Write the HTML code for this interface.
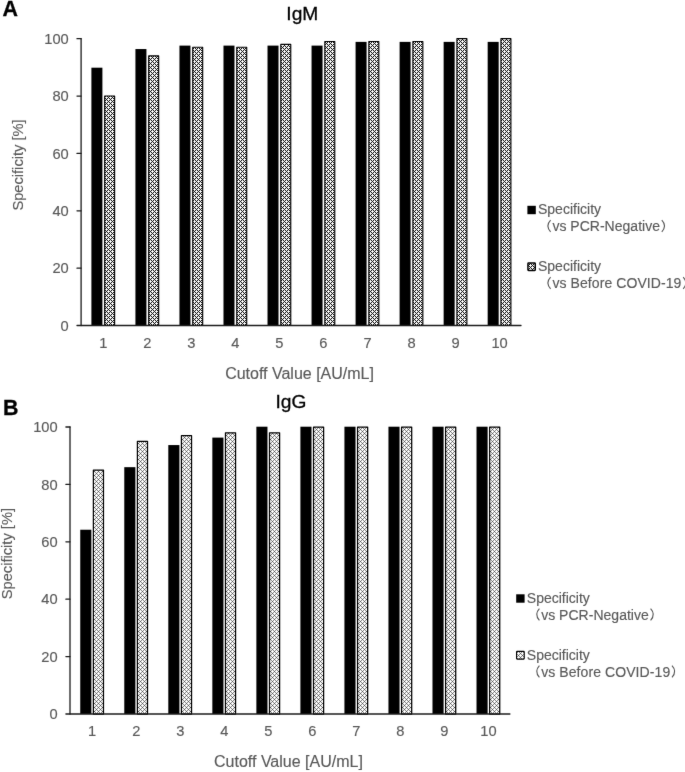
<!DOCTYPE html>
<html><head><meta charset="utf-8"><title>Specificity</title>
<style>
html,body{margin:0;padding:0;background:#fff;}
body{width:685px;height:772px;overflow:hidden;font-family:"Liberation Sans",sans-serif;}
svg{display:block;}
svg text{font-family:"Liberation Sans",sans-serif;}
svg{will-change:transform;}
svg text{stroke-width:0.15px;paint-order:stroke fill;}
.g text{stroke:#595959;}
</style></head>
<body>
<svg width="685" height="772" viewBox="0 0 685 772">
<defs>
<filter id="bl" x="0" y="0" width="685" height="772" filterUnits="userSpaceOnUse" color-interpolation-filters="sRGB"><feConvolveMatrix order="3" kernelMatrix="0.0049 0.0602 0.0049 0.0602 0.7396 0.0602 0.0049 0.0602 0.0049" divisor="1" edgeMode="duplicate" preserveAlpha="false"/></filter>
<pattern id="pa" width="4" height="4" patternUnits="userSpaceOnUse" patternTransform="translate(0 1)">
<rect width="4" height="4" fill="#fff"/>
<path d="M-1 -1 L5 5 M3 -1 L5 1 M-1 3 L1 5 M-1 2 L2 -1 M-1 6 L6 -1" stroke="#000" stroke-width="1.0" fill="none"/>
</pattern>
<pattern id="pb" width="4" height="4" patternUnits="userSpaceOnUse" patternTransform="translate(0 1)">
<rect width="4" height="4" fill="#fff"/>
<path d="M-1 -1 L5 5 M3 -1 L5 1 M-1 3 L1 5 M-1 2 L2 -1 M-1 6 L6 -1" stroke="#222" stroke-width="0.58" fill="none"/>
</pattern>
</defs>
<rect width="685" height="772" fill="#fff"/>
<g filter="url(#bl)">
<rect x="91.40" y="67.69" width="11.0" height="257.81" fill="#000"/>
<rect x="104.67" y="96.03" width="9.95" height="229.47" fill="url(#pa)" stroke="#000" stroke-width="1.15" stroke-linejoin="round"/>
<rect x="135.43" y="49.05" width="11.0" height="276.45" fill="#000"/>
<rect x="148.70" y="55.88" width="9.95" height="269.62" fill="url(#pa)" stroke="#000" stroke-width="1.15" stroke-linejoin="round"/>
<rect x="179.46" y="45.61" width="11.0" height="279.89" fill="#000"/>
<rect x="192.73" y="47.28" width="9.95" height="278.22" fill="url(#pa)" stroke="#000" stroke-width="1.15" stroke-linejoin="round"/>
<rect x="223.49" y="45.61" width="11.0" height="279.89" fill="#000"/>
<rect x="236.76" y="47.28" width="9.95" height="278.22" fill="url(#pa)" stroke="#000" stroke-width="1.15" stroke-linejoin="round"/>
<rect x="267.52" y="45.61" width="11.0" height="279.89" fill="#000"/>
<rect x="280.80" y="44.41" width="9.95" height="281.09" fill="url(#pa)" stroke="#000" stroke-width="1.15" stroke-linejoin="round"/>
<rect x="311.55" y="45.61" width="11.0" height="279.89" fill="#000"/>
<rect x="324.82" y="41.54" width="9.95" height="283.96" fill="url(#pa)" stroke="#000" stroke-width="1.15" stroke-linejoin="round"/>
<rect x="355.58" y="41.88" width="11.0" height="283.62" fill="#000"/>
<rect x="368.85" y="41.54" width="9.95" height="283.96" fill="url(#pa)" stroke="#000" stroke-width="1.15" stroke-linejoin="round"/>
<rect x="399.61" y="41.88" width="11.0" height="283.62" fill="#000"/>
<rect x="412.89" y="41.54" width="9.95" height="283.96" fill="url(#pa)" stroke="#000" stroke-width="1.15" stroke-linejoin="round"/>
<rect x="443.64" y="41.88" width="11.0" height="283.62" fill="#000"/>
<rect x="456.92" y="38.67" width="9.95" height="286.83" fill="url(#pa)" stroke="#000" stroke-width="1.15" stroke-linejoin="round"/>
<rect x="487.67" y="41.88" width="11.0" height="283.62" fill="#000"/>
<rect x="500.94" y="38.67" width="9.95" height="286.83" fill="url(#pa)" stroke="#000" stroke-width="1.15" stroke-linejoin="round"/>
<path d="M81.1 38.7 V325.5" stroke="#1c1c1c" stroke-width="1.3" fill="none" stroke-linecap="round"/>
<path d="M77.0 325.5 H521.0" stroke="#1c1c1c" stroke-width="1.3" fill="none" stroke-linecap="round"/>
<path d="M77.0 268.14 H81.1" stroke="#1c1c1c" stroke-width="1.3" fill="none" stroke-linecap="round"/>
<path d="M77.0 210.78 H81.1" stroke="#1c1c1c" stroke-width="1.3" fill="none" stroke-linecap="round"/>
<path d="M77.0 153.42 H81.1" stroke="#1c1c1c" stroke-width="1.3" fill="none" stroke-linecap="round"/>
<path d="M77.0 96.06 H81.1" stroke="#1c1c1c" stroke-width="1.3" fill="none" stroke-linecap="round"/>
<path d="M77.0 38.70 H81.1" stroke="#1c1c1c" stroke-width="1.3" fill="none" stroke-linecap="round"/>
<text x="68.75" y="330.60" text-anchor="end" font-size="14.67" fill="#595959" stroke="#595959">0</text>
<text x="68.75" y="273.24" text-anchor="end" font-size="14.67" fill="#595959" stroke="#595959">20</text>
<text x="68.75" y="215.88" text-anchor="end" font-size="14.67" fill="#595959" stroke="#595959">40</text>
<text x="68.75" y="158.52" text-anchor="end" font-size="14.67" fill="#595959" stroke="#595959">60</text>
<text x="68.75" y="101.16" text-anchor="end" font-size="14.67" fill="#595959" stroke="#595959">80</text>
<text x="68.75" y="43.80" text-anchor="end" font-size="14.67" fill="#595959" stroke="#595959">100</text>
<text x="103.30" y="347.95" text-anchor="middle" font-size="14.67" fill="#595959" stroke="#595959">1</text>
<text x="147.33" y="347.95" text-anchor="middle" font-size="14.67" fill="#595959" stroke="#595959">2</text>
<text x="191.36" y="347.95" text-anchor="middle" font-size="14.67" fill="#595959" stroke="#595959">3</text>
<text x="235.39" y="347.95" text-anchor="middle" font-size="14.67" fill="#595959" stroke="#595959">4</text>
<text x="279.42" y="347.95" text-anchor="middle" font-size="14.67" fill="#595959" stroke="#595959">5</text>
<text x="323.45" y="347.95" text-anchor="middle" font-size="14.67" fill="#595959" stroke="#595959">6</text>
<text x="367.48" y="347.95" text-anchor="middle" font-size="14.67" fill="#595959" stroke="#595959">7</text>
<text x="411.51" y="347.95" text-anchor="middle" font-size="14.67" fill="#595959" stroke="#595959">8</text>
<text x="455.54" y="347.95" text-anchor="middle" font-size="14.67" fill="#595959" stroke="#595959">9</text>
<text x="499.57" y="347.95" text-anchor="middle" font-size="14.67" fill="#595959" stroke="#595959">10</text>
<text x="299.55" y="378.70" text-anchor="middle" font-size="16" fill="#595959" stroke="#595959">Cutoff Value [AU/mL]</text>
<text transform="translate(23.3 165) rotate(-90)" text-anchor="middle" font-size="14.67" fill="#595959" stroke="#595959">Specificity [%]</text>
<text x="302.3" y="19.8" text-anchor="middle" font-size="19.2" fill="#000" stroke="#000" style="stroke-width:0.3px">IgM</text>
<text x="2.4" y="15.6" font-size="21.4" font-weight="bold" fill="#000" stroke="#000" style="stroke-width:0.3px">A</text>
<rect x="527.4" y="205.8" width="8.4" height="8.4" fill="#000"/>
<text x="538.0" y="214" font-size="14" fill="#595959" stroke="#595959">Specificity</text>
<path d="M550.6 220.2 q-5.4 5.8 0 11.6" stroke="#555" stroke-width="1.1" fill="none"/>
<text x="552.4" y="231" font-size="14" fill="#595959" stroke="#595959" textLength="107.6" lengthAdjust="spacing">vs PCR-Negative</text>
<path d="M661.8 220.2 q5.4 5.8 0 11.6" stroke="#555" stroke-width="1.1" fill="none"/>
<rect x="527.95" y="263.10" width="7.30" height="7.30" rx="0.6" fill="url(#pa)" stroke="#000" stroke-width="1.5"/>
<text x="538.0" y="271" font-size="14" fill="#595959" stroke="#595959">Specificity</text>
<path d="M550.6 277.2 q-5.4 5.8 0 11.6" stroke="#555" stroke-width="1.1" fill="none"/>
<text x="552.4" y="288" font-size="14" fill="#595959" stroke="#595959" textLength="129.0" lengthAdjust="spacing">vs Before COVID-19</text>
<path d="M683.2 277.2 q5.4 5.8 0 11.6" stroke="#555" stroke-width="1.1" fill="none"/>
<rect x="80.25" y="529.73" width="11.1" height="184.27" fill="#000"/>
<rect x="93.38" y="470.07" width="10.10" height="243.93" fill="url(#pb)" stroke="#000" stroke-width="1.25" stroke-linejoin="round"/>
<rect x="124.28" y="467.17" width="11.1" height="246.83" fill="#000"/>
<rect x="137.41" y="441.37" width="10.10" height="272.63" fill="url(#pb)" stroke="#000" stroke-width="1.25" stroke-linejoin="round"/>
<rect x="168.31" y="445.07" width="11.1" height="268.93" fill="#000"/>
<rect x="181.44" y="435.63" width="10.10" height="278.37" fill="url(#pb)" stroke="#000" stroke-width="1.25" stroke-linejoin="round"/>
<rect x="212.34" y="437.61" width="11.1" height="276.39" fill="#000"/>
<rect x="225.47" y="432.76" width="10.10" height="281.24" fill="url(#pb)" stroke="#000" stroke-width="1.25" stroke-linejoin="round"/>
<rect x="256.37" y="426.70" width="11.1" height="287.30" fill="#000"/>
<rect x="269.50" y="432.76" width="10.10" height="281.24" fill="url(#pb)" stroke="#000" stroke-width="1.25" stroke-linejoin="round"/>
<rect x="300.40" y="426.70" width="11.1" height="287.30" fill="#000"/>
<rect x="313.52" y="427.02" width="10.10" height="286.98" fill="url(#pb)" stroke="#000" stroke-width="1.25" stroke-linejoin="round"/>
<rect x="344.43" y="426.70" width="11.1" height="287.30" fill="#000"/>
<rect x="357.56" y="427.02" width="10.10" height="286.98" fill="url(#pb)" stroke="#000" stroke-width="1.25" stroke-linejoin="round"/>
<rect x="388.46" y="426.70" width="11.1" height="287.30" fill="#000"/>
<rect x="401.59" y="427.02" width="10.10" height="286.98" fill="url(#pb)" stroke="#000" stroke-width="1.25" stroke-linejoin="round"/>
<rect x="432.49" y="426.70" width="11.1" height="287.30" fill="#000"/>
<rect x="445.62" y="427.02" width="10.10" height="286.98" fill="url(#pb)" stroke="#000" stroke-width="1.25" stroke-linejoin="round"/>
<rect x="476.52" y="426.70" width="11.1" height="287.30" fill="#000"/>
<rect x="489.64" y="427.02" width="10.10" height="286.98" fill="url(#pb)" stroke="#000" stroke-width="1.25" stroke-linejoin="round"/>
<path d="M70.0 427.0 V714.0" stroke="#1c1c1c" stroke-width="1.3" fill="none" stroke-linecap="round"/>
<path d="M65.9 714.0 H509.90000000000003" stroke="#1c1c1c" stroke-width="1.3" fill="none" stroke-linecap="round"/>
<path d="M65.9 656.60 H70.0" stroke="#1c1c1c" stroke-width="1.3" fill="none" stroke-linecap="round"/>
<path d="M65.9 599.20 H70.0" stroke="#1c1c1c" stroke-width="1.3" fill="none" stroke-linecap="round"/>
<path d="M65.9 541.80 H70.0" stroke="#1c1c1c" stroke-width="1.3" fill="none" stroke-linecap="round"/>
<path d="M65.9 484.40 H70.0" stroke="#1c1c1c" stroke-width="1.3" fill="none" stroke-linecap="round"/>
<path d="M65.9 427.00 H70.0" stroke="#1c1c1c" stroke-width="1.3" fill="none" stroke-linecap="round"/>
<text x="57.65" y="719.10" text-anchor="end" font-size="14.67" fill="#595959" stroke="#595959">0</text>
<text x="57.65" y="661.70" text-anchor="end" font-size="14.67" fill="#595959" stroke="#595959">20</text>
<text x="57.65" y="604.30" text-anchor="end" font-size="14.67" fill="#595959" stroke="#595959">40</text>
<text x="57.65" y="546.90" text-anchor="end" font-size="14.67" fill="#595959" stroke="#595959">60</text>
<text x="57.65" y="489.50" text-anchor="end" font-size="14.67" fill="#595959" stroke="#595959">80</text>
<text x="57.65" y="432.10" text-anchor="end" font-size="14.67" fill="#595959" stroke="#595959">100</text>
<text x="92.20" y="736.45" text-anchor="middle" font-size="14.67" fill="#595959" stroke="#595959">1</text>
<text x="136.23" y="736.45" text-anchor="middle" font-size="14.67" fill="#595959" stroke="#595959">2</text>
<text x="180.26" y="736.45" text-anchor="middle" font-size="14.67" fill="#595959" stroke="#595959">3</text>
<text x="224.29" y="736.45" text-anchor="middle" font-size="14.67" fill="#595959" stroke="#595959">4</text>
<text x="268.32" y="736.45" text-anchor="middle" font-size="14.67" fill="#595959" stroke="#595959">5</text>
<text x="312.35" y="736.45" text-anchor="middle" font-size="14.67" fill="#595959" stroke="#595959">6</text>
<text x="356.38" y="736.45" text-anchor="middle" font-size="14.67" fill="#595959" stroke="#595959">7</text>
<text x="400.41" y="736.45" text-anchor="middle" font-size="14.67" fill="#595959" stroke="#595959">8</text>
<text x="444.44" y="736.45" text-anchor="middle" font-size="14.67" fill="#595959" stroke="#595959">9</text>
<text x="488.47" y="736.45" text-anchor="middle" font-size="14.67" fill="#595959" stroke="#595959">10</text>
<text x="288.45" y="767.20" text-anchor="middle" font-size="16" fill="#595959" stroke="#595959">Cutoff Value [AU/mL]</text>
<text transform="translate(12.1 553.6) rotate(-90)" text-anchor="middle" font-size="14.67" fill="#595959" stroke="#595959">Specificity [%]</text>
<text x="291" y="407.8" text-anchor="middle" font-size="19.2" fill="#000" stroke="#000" style="stroke-width:0.3px">IgG</text>
<text x="3.0" y="415.2" font-size="21.4" font-weight="bold" fill="#000" stroke="#000" style="stroke-width:0.3px">B</text>
<rect x="516.2" y="594.3" width="8.4" height="8.4" fill="#000"/>
<text x="526.8000000000001" y="602.5" font-size="14" fill="#595959" stroke="#595959">Specificity</text>
<path d="M539.4000000000001 608.7 q-5.4 5.8 0 11.6" stroke="#555" stroke-width="1.1" fill="none"/>
<text x="541.2" y="619.5" font-size="14" fill="#595959" stroke="#595959" textLength="107.6" lengthAdjust="spacing">vs PCR-Negative</text>
<path d="M650.6 608.7 q5.4 5.8 0 11.6" stroke="#555" stroke-width="1.1" fill="none"/>
<rect x="516.55" y="651.40" width="7.70" height="7.70" rx="0.6" fill="url(#pb)" stroke="#000" stroke-width="1.1"/>
<text x="526.8000000000001" y="659.5" font-size="14" fill="#595959" stroke="#595959">Specificity</text>
<path d="M539.4000000000001 665.7 q-5.4 5.8 0 11.6" stroke="#555" stroke-width="1.1" fill="none"/>
<text x="541.2" y="676.5" font-size="14" fill="#595959" stroke="#595959" textLength="129.0" lengthAdjust="spacing">vs Before COVID-19</text>
<path d="M672.0 665.7 q5.4 5.8 0 11.6" stroke="#555" stroke-width="1.1" fill="none"/>
</g>
</svg>
</body></html>
